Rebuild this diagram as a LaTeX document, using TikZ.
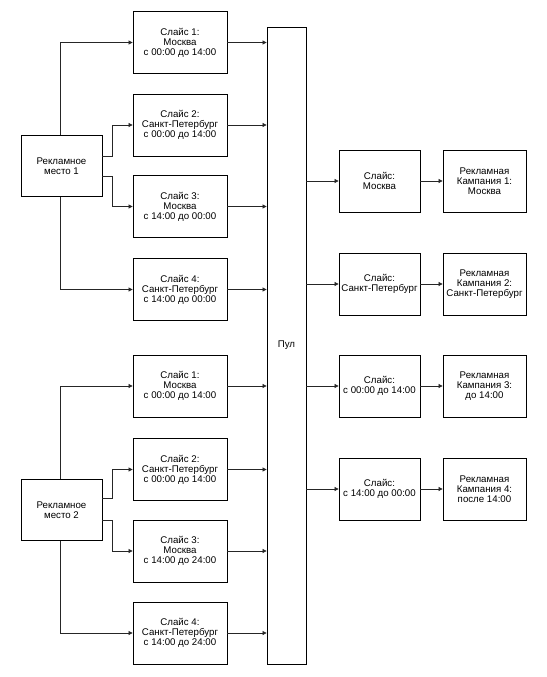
\documentclass[tikz,border=0pt]{standalone}
\usepackage{fontspec}
\setmainfont{Liberation Sans}
\usetikzlibrary{arrows.meta}
\begin{document}
\begin{tikzpicture}[x=1pt,y=-1pt,
  box/.style={draw=black,line width=0.8pt,align=center,inner sep=1pt,font=\fontsize{9.7}{10}\selectfont},
  lslice/.style={box,minimum width=94pt,minimum height=62pt},
  rm/.style={box,minimum width=81pt,minimum height=61pt},
  rslice/.style={box,minimum width=81pt,minimum height=62pt},
  camp/.style={box,minimum width=83pt,minimum height=62pt},
  conn/.style={draw=black!85,line width=0.7pt,-{Triangle[length=4pt,width=4pt]}}]
\useasboundingbox (0,0) rectangle (546,677);
\node[rm] (rm1) at (61.5,166) {Рекламное\\место 1};
\node[rm] (rm2) at (61.5,510) {Рекламное\\место 2};
\node[lslice] (a1) at (180,42.5) {Слайс 1:\\Москва\\с 00:00 до 14:00};
\node[lslice] (a2) at (180,125) {Слайс 2:\\Санкт-Петербург\\с 00:00 до 14:00};
\node[lslice] (a3) at (180,206.5) {Слайс 3:\\Москва\\с 14:00 до 00:00};
\node[lslice] (a4) at (180,289.5) {Слайс 4:\\Санкт-Петербург\\с 14:00 до 00:00};
\node[lslice] (b1) at (180,386) {Слайс 1:\\Москва\\с 00:00 до 14:00};
\node[lslice] (b2) at (180,469.5) {Слайс 2:\\Санкт-Петербург\\с 00:00 до 14:00};
\node[lslice] (b3) at (180,551) {Слайс 3:\\Москва\\с 14:00 до 24:00};
\node[lslice] (b4) at (180,633) {Слайс 4:\\Санкт-Петербург\\с 14:00 до 24:00};
\node[box,minimum width=39pt,minimum height=637pt] (pool) at (286.5,345.5) {Пул};
\node[rslice] (r1) at (379.5,181) {Слайс:\\Москва};
\node[rslice] (r2) at (379.5,284) {Слайс:\\Санкт-Петербург};
\node[rslice] (r3) at (379.5,386) {Слайс:\\с 00:00 до 14:00};
\node[rslice] (r4) at (379.5,489) {Слайс:\\с 14:00 до 00:00};
\node[camp] (c1) at (484.5,181) {Рекламная\\Кампания 1:\\Москва};
\node[camp] (c2) at (484.5,284) {Рекламная\\Кампания 2:\\Санкт-Петербург};
\node[camp] (c3) at (484.5,386) {Рекламная\\Кампания 3:\\до 14:00};
\node[camp] (c4) at (484.5,489) {Рекламная\\Кампания 4:\\после 14:00};
% place 1
\draw[conn] ([xshift=-1.5pt]rm1.north) |- (a1.west);
\draw[conn] ([yshift=10pt]rm1.east) -- ++(10,0) |- (a2.west);
\draw[conn] ([yshift=-10pt]rm1.east) -- ++(10,0) |- (a3.west);
\draw[conn] ([xshift=-1.5pt]rm1.south) |- (a4.west);
% place 2
\draw[conn] ([xshift=-1.5pt]rm2.north) |- (b1.west);
\draw[conn] ([yshift=12pt]rm2.east) -- ++(10,0) |- (b2.west);
\draw[conn] ([yshift=-10pt]rm2.east) -- ++(10,0) |- (b3.west);
\draw[conn] ([xshift=-1.5pt]rm2.south) |- (b4.west);
% to pool
\foreach \n in {a1,a2,a3,a4,b1,b2,b3,b4}
  \draw[conn] (\n.east) -- (\n.east -| pool.west);
% from pool
\foreach \n/\m in {r1/c1,r2/c2,r3/c3,r4/c4}{
  \draw[conn] (\n.west -| pool.east) -- (\n.west);
  \draw[conn] (\n.east) -- (\m.west);
}
\end{tikzpicture}
\end{document}
